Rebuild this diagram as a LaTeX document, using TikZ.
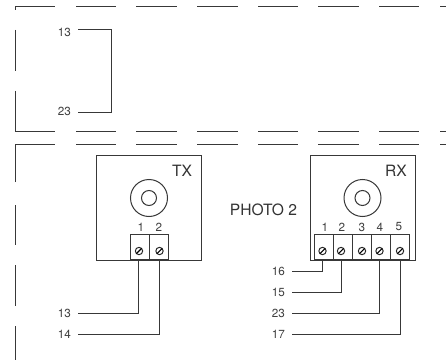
\documentclass[tikz,border=0pt]{standalone}
\usepackage{fontspec}
\setmainfont{TeX Gyre Heros}
\newcommand{\screwat}[2]{\node[screw] (#1) at (#2) {};
  \draw[line width=0.8pt] (#1.45) -- (#1.225);}
\tikzset{
  x=0.75pt,y=-0.75pt,
  ln/.style={line width=0.75pt,draw=black!78},
  wire/.style={ln},
  box/.style={ln,draw,minimum width=78.75pt,minimum height=79.1pt,inner sep=0pt,outer sep=0pt},
  term/.style={ln,draw,minimum height=19.1pt,inner sep=0pt,outer sep=0pt},
  screw/.style={circle,draw=black!85,line width=0.75pt,minimum size=5.5pt,inner sep=0pt,outer sep=0pt},
  wlabel/.style={font=\fontsize{8.8pt}{10pt}\selectfont,text=black!75,anchor=east,inner sep=0pt,outer xsep=5.25pt},
  tlabel/.style={font=\fontsize{8.8pt}{10pt}\selectfont,text=black!75,inner sep=0pt},
  biglabel/.style={font=\fontsize{11.7pt}{13pt}\selectfont,text=black!80,inner sep=0pt},
}
\begin{document}
\begin{tikzpicture}
\useasboundingbox (0,0) rectangle (446,360);
\fill[white] (0,0) rectangle (446,360);

% dashed enclosures
\draw[ln] (15,10) -- (15,7) -- (55,7);
\foreach \a/\b in {30/71,91/131.5}{\draw[ln] (15,\a) -- (15,\b);}
\draw[ln] (15,131.5) -- (55,131.5);
\foreach \a/\b in {76/116,136/177,197/238,258/298,318/359,379/419,440/446}{
  \draw[ln] (\a,7) -- (\b,7);
  \draw[ln] (\a,131.5) -- (\b,131.5);
  \draw[ln] (\a,144) -- (\b,144);
}
\draw[ln] (15,182) -- (15,144) -- (55,144);
\foreach \a/\b in {205/245,265/306,326/360}{\draw[ln] (15,\a) -- (15,\b);}

% upper link
\node[wlabel] (a13) at (78,32) {13};
\node[wlabel] (a23) at (78,111.5) {23};
\coordinate (au) at (78,30);
\coordinate (ad) at (78,112);
\draw[wire] (au) -- (111.5,30) -- (111.5,112) -- (ad);

% TX
\node[box] (tx) at (149,208.25) {};
\node[biglabel] (txl) at (182,171) {TX};
\node[circle,ln,draw,minimum size=27.75pt,inner sep=0pt] (txo) at (149,198) {};
\node[circle,ln,draw,minimum size=11.25pt,inner sep=0pt] (txi) at (149,198) {};
\node[tlabel] (tn1) at (141,227) {1};
\node[tlabel] (tn2) at (159,227) {2};
\node[term,minimum width=14.25pt] (tt1) at (139.5,246.75) {};
\node[term,minimum width=14.25pt] (tt2) at (158.5,246.75) {};
\screwat{ts1}{139,251}
\screwat{ts2}{159.5,251}
\coordinate (tw1) at (138.5,261);
\coordinate (tw2) at (159.5,261);
\node[wlabel] (t13) at (78,313) {13};
\node[wlabel] (t14) at (78,334) {14};
\draw[wire] (tw1) |- (t13.east);
\draw[wire] (tw2) |- (t14.east);

% RX
\node[box] (rx) at (362.5,208.25) {};
\node[biglabel] (rxl) at (396,171) {RX};
\node[biglabel] (photo) at (263.5,210) {PHOTO 2};
\node[circle,ln,draw,minimum size=27.75pt,inner sep=0pt] (rxo) at (362.5,198) {};
\node[circle,ln,draw,minimum size=11.25pt,inner sep=0pt] (rxi) at (362.5,198) {};
\foreach \n/\x in {1/325,2/342,3/362,4/380,5/399}{
  \node[tlabel] (rn\n) at (\x,227) {\n};
}
\foreach \n/\x in {1/323.5,2/342.5,3/361.5,4/380.5,5/399.5}{
  \node[term,minimum width=14.25pt] (rt\n) at (\x,246.75) {};
}
\screwat{rs1}{322.5,251}
\screwat{rs2}{341,251}
\screwat{rs3}{362,251}
\screwat{rs4}{379.5,251}
\screwat{rs5}{400,251}
\coordinate (rw1) at (322.5,261);
\coordinate (rw2) at (341,261);
\coordinate (rw4) at (379,261);
\coordinate (rw5) at (400,261);
\node[wlabel] (r16) at (292,271.5) {16};
\node[wlabel] (r15) at (292,292.7) {15};
\node[wlabel] (r23) at (292,313.7) {23};
\node[wlabel] (r17) at (292,334) {17};
\draw[wire] (rw1) |- (r16.east);
\draw[wire] (rw2) |- (r15.east);
\draw[wire] (rw4) |- (r23.east);
\draw[wire] (rw5) |- (r17.east);
\end{tikzpicture}
\end{document}
